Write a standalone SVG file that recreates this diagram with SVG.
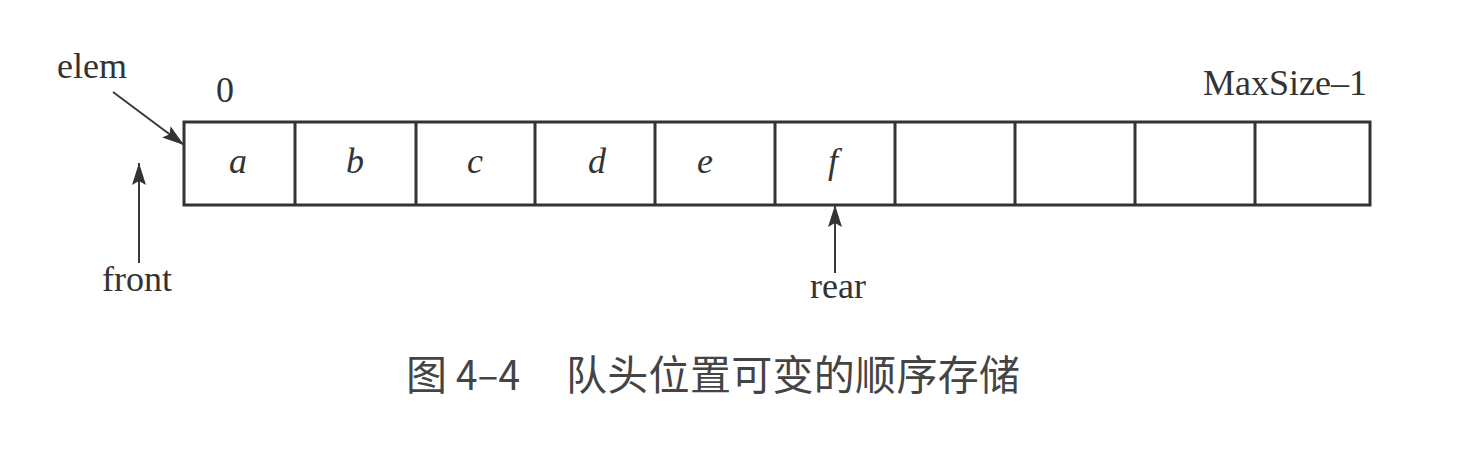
<svg xmlns="http://www.w3.org/2000/svg" width="1465" height="449" viewBox="0 0 1465 449">
<style>
.cell{fill:none;stroke:#333;stroke-width:3}
.lbl{font-family:"Liberation Serif",serif;font-size:36px;fill:#333}
.it{font-family:"Liberation Serif",serif;font-style:italic;font-size:36px;fill:#333;text-anchor:middle}
.con{stroke:#3a3a3a;stroke-width:2;fill:none;marker-end:url(#ah)}
.cap{font-family:"Noto Sans CJK SC",sans-serif;font-size:41px;fill:#444}
</style>
<defs>
<marker id="ah" markerUnits="userSpaceOnUse" markerWidth="24" markerHeight="14" refX="22" refY="7" orient="auto">
<path d="M0,0 L22,7 L0,14 L4,7 Z" fill="#333"/>
</marker>
</defs>
<rect width="1465" height="449" fill="#fff"/>
<g id="array">
<rect class="cell" x="184" y="122" width="1186" height="83"/>
<path class="cell" d="M295,122V205M416,122V205M535,122V205M655,122V205M775,122V205M895,122V205M1015,122V205M1135,122V205M1255,122V205"/>
<text class="it" x="238" y="173">a</text>
<text class="it" x="355" y="173">b</text>
<text class="it" x="475" y="173">c</text>
<text class="it" x="597" y="173">d</text>
<text class="it" x="705" y="173">e</text>
<text class="it" x="833" y="173">f</text>
</g>
<g id="index0"><text class="lbl" x="225" y="102" text-anchor="middle">0</text></g>
<g id="indexMax"><text class="lbl" x="1367" y="95" text-anchor="end">MaxSize–1</text></g>
<g id="elem"><text class="lbl" x="92" y="78" text-anchor="middle">elem</text></g>
<g id="front"><text class="lbl" x="137" y="291" text-anchor="middle">front</text></g>
<g id="rear"><text class="lbl" x="838" y="298" text-anchor="middle">rear</text></g>
<g id="connectors">
<line class="con" x1="113" y1="92" x2="184" y2="145"/>
<line class="con" x1="139" y1="263" x2="139" y2="163"/>
<line class="con" x1="835" y1="273" x2="835" y2="205"/>
</g>
<g id="caption">
<text class="cap" x="406" y="390">图</text>
<text class="cap" x="456" y="390" textLength="64" lengthAdjust="spacingAndGlyphs">4–4</text>
<text class="cap" x="566" y="390" textLength="454" lengthAdjust="spacing">队头位置可变的顺序存储</text>
</g>
</svg>
